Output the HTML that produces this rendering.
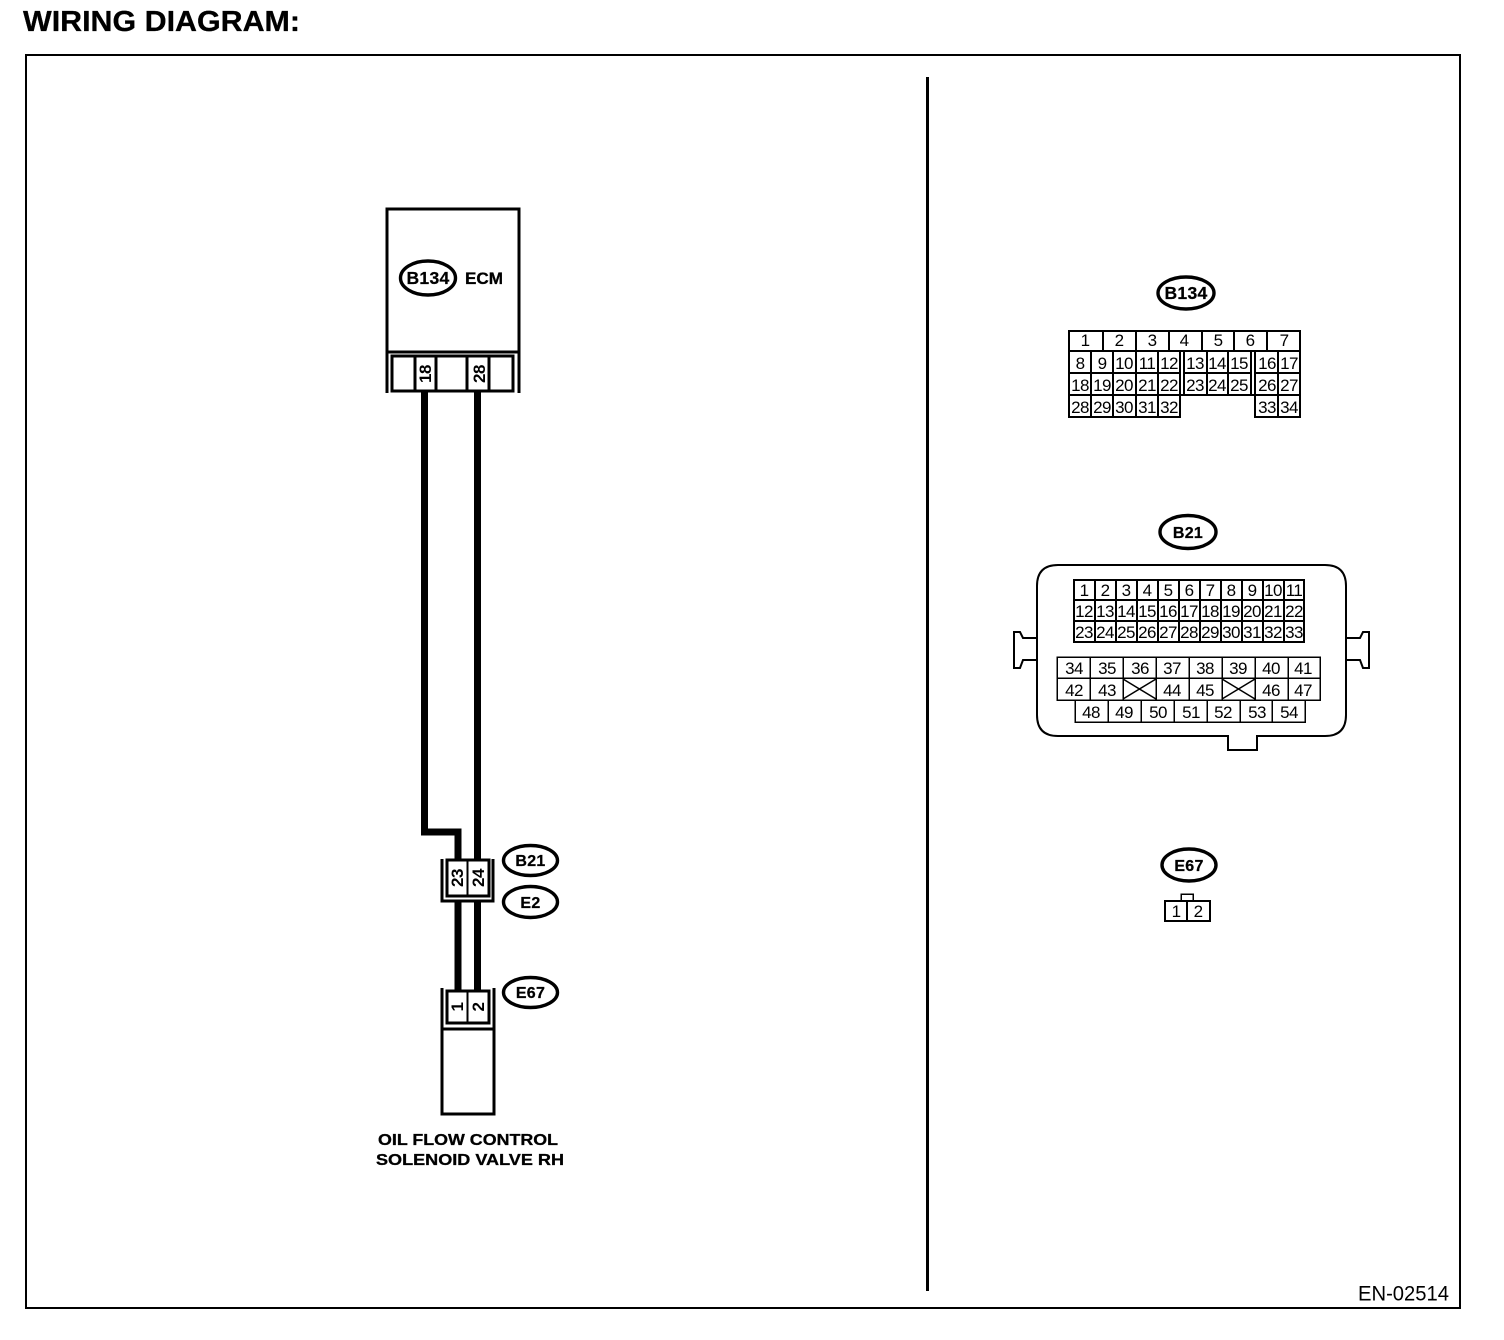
<!DOCTYPE html>
<html><head><meta charset="utf-8"><title>Wiring Diagram</title>
<style>
html,body{margin:0;padding:0;background:#fff}
svg{display:block}
text{font-family:"Liberation Sans",sans-serif;fill:#000}
.b{font-weight:bold;stroke:#000;stroke-width:.3px}
.n{font-size:17px;text-anchor:middle;letter-spacing:-.6px}
.e{font-size:16px;font-weight:bold;text-anchor:middle;stroke:#000;stroke-width:.25px;letter-spacing:.3px}
.g{font-size:17px;font-weight:bold;text-anchor:middle;letter-spacing:-.5px}
.l{fill:none;stroke:#000;shape-rendering:crispEdges}
.o{fill:#fff;stroke:#000;stroke-width:3.4}
</style></head><body>
<svg width="1504" height="1340" viewBox="0 0 1504 1340" xmlns="http://www.w3.org/2000/svg">
<rect width="1504" height="1340" fill="#fff"/>
<text class="b" x="23" y="31" font-size="29" textLength="277" lengthAdjust="spacingAndGlyphs">WIRING DIAGRAM:</text>
<rect class="l" x="26" y="55" width="1434" height="1253" stroke-width="2"/>
<rect x="926" y="77" width="3" height="1214" fill="#000"/>
<text x="1358" y="1300.5" font-size="21" textLength="91" lengthAdjust="spacingAndGlyphs">EN-02514</text>

<!-- wires -->
<path d="M424.5 392V832H458V860M477.5 392V860M458 900V990M477.5 900V990" fill="none" stroke="#000" stroke-width="7" shape-rendering="crispEdges"/>

<!-- ECM -->
<path class="l" stroke-width="3" d="M387 393V209H519V393M387 352H519"/>
<rect class="l" stroke-width="3" x="392" y="356" width="121" height="35" fill="#fff"/>
<path class="l" stroke-width="3" d="M415 356V391M436 356V391M467 356V391M489 356V391"/>
<ellipse class="o" cx="428" cy="278" rx="27.5" ry="17"/>
<text class="e" x="428" y="284" style="font-size:17.5px">B134</text>
<text class="b" x="465" y="284" font-size="16.5" textLength="38" lengthAdjust="spacingAndGlyphs">ECM</text>
<text class="g" transform="rotate(-90 425 374)" x="425" y="380">18</text>
<text class="g" transform="rotate(-90 479 374)" x="479" y="380">28</text>

<!-- B21/E2 connector -->
<path class="l" stroke-width="3" d="M442 859V901H493V859"/>
<rect class="l" stroke-width="3" x="447" y="860" width="42" height="36" fill="#fff"/>
<path class="l" stroke-width="2" d="M467.5 860V896"/>
<text class="g" transform="rotate(-90 457 878)" x="457" y="884">23</text>
<text class="g" transform="rotate(-90 478 878)" x="478" y="884">24</text>
<ellipse class="o" cx="530.5" cy="860.5" rx="27" ry="15"/>
<text class="e" x="530.5" y="866">B21</text>
<ellipse class="o" cx="530.5" cy="902" rx="27" ry="15.5"/>
<text class="e" x="530.5" y="908">E2</text>
<ellipse class="o" cx="530.5" cy="992.5" rx="27" ry="15"/>
<text class="e" x="530.5" y="998">E67</text>

<!-- E67 connector / solenoid -->
<path class="l" stroke-width="3" d="M442 988V1114H494V988M442 1029H494"/>
<rect class="l" stroke-width="3" x="447" y="991" width="42" height="32" fill="#fff"/>
<path class="l" stroke-width="2" d="M467.5 991V1023"/>
<text class="g" transform="rotate(-90 457 1007)" x="457" y="1013">1</text>
<text class="g" transform="rotate(-90 478 1007)" x="478" y="1013">2</text>
<text class="b" x="378" y="1145" font-size="16" textLength="180" lengthAdjust="spacingAndGlyphs">OIL FLOW CONTROL</text>
<text class="b" x="376" y="1165" font-size="16" textLength="188" lengthAdjust="spacingAndGlyphs">SOLENOID VALVE RH</text>

<!-- right B134 -->
<ellipse class="o" cx="1186" cy="293" rx="28" ry="16"/>
<text class="e" x="1186" y="299" style="font-size:17.5px">B134</text>
<path class="l" stroke-width="2" d="M1069 331H1300V417H1255V395H1180V417H1069Z"/>
<path class="l" stroke-width="2" d="M1069 351H1300M1069 373H1180M1184 373H1251M1255 373H1300M1069 395H1180M1255 395H1300"/>
<path class="l" stroke-width="2" d="M1103 331V351M1136 331V351M1169 331V351M1202 331V351M1234 331V351M1267 331V351"/>
<path class="l" stroke-width="2" d="M1091 351V417M1113 351V417M1136 351V417M1158 351V417M1180 351V395M1184 351V395M1207 351V395M1228 351V395M1251 351V395M1255 351V395M1278 351V417"/>
<text class="n" x="1085" y="346">1</text><text class="n" x="1119" y="346">2</text><text class="n" x="1152" y="346">3</text><text class="n" x="1184" y="346">4</text><text class="n" x="1218" y="346">5</text><text class="n" x="1250" y="346">6</text><text class="n" x="1284" y="346">7</text>
<text class="n" x="1080" y="369">8</text><text class="n" x="1102" y="369">9</text><text class="n" x="1124" y="369">10</text><text class="n" x="1147" y="369">11</text><text class="n" x="1169" y="369">12</text><text class="n" x="1195" y="369">13</text><text class="n" x="1217" y="369">14</text><text class="n" x="1239" y="369">15</text><text class="n" x="1267" y="369">16</text><text class="n" x="1289" y="369">17</text>
<text class="n" x="1080" y="391">18</text><text class="n" x="1102" y="391">19</text><text class="n" x="1124" y="391">20</text><text class="n" x="1147" y="391">21</text><text class="n" x="1169" y="391">22</text><text class="n" x="1195" y="391">23</text><text class="n" x="1217" y="391">24</text><text class="n" x="1239" y="391">25</text><text class="n" x="1267" y="391">26</text><text class="n" x="1289" y="391">27</text>
<text class="n" x="1080" y="413">28</text><text class="n" x="1102" y="413">29</text><text class="n" x="1124" y="413">30</text><text class="n" x="1147" y="413">31</text><text class="n" x="1169" y="413">32</text><text class="n" x="1267" y="413">33</text><text class="n" x="1289" y="413">34</text>

<!-- right B21 -->
<ellipse class="o" cx="1188" cy="532" rx="28" ry="16.5"/>
<text class="e" x="1188" y="538">B21</text>
<path d="M1228 736H1058Q1037 736 1037 715V586Q1037 565 1058 565H1325Q1346 565 1346 586V715Q1346 736 1325 736H1257V750H1228ZM1037 660H1023L1020 668H1014V632H1020L1023 638H1037M1346 638H1360L1363 632H1369V668H1363L1360 660H1346" fill="none" stroke="#000" stroke-width="2"/>
<path class="l" stroke-width="2" d="M1074 580H1304V642H1074Z"/>
<path class="l" stroke-width="2" d="M1074 600H1304M1074 621H1304M1095 580V642M1116 580V642M1137 580V642M1158 580V642M1179 580V642M1200 580V642M1221 580V642M1242 580V642M1263 580V642M1284 580V642"/>
<path class="l" stroke-width="1.5" d="M1057 657H1320V700H1057ZM1057 678H1320M1090 657V700M1123 657V700M1156 657V700M1189 657V700M1222 657V700M1255 657V700M1288 657V700"/>
<path class="l" stroke-width="1.5" d="M1075 700H1305V722H1075ZM1108 700V722M1141 700V722M1174 700V722M1207 700V722M1240 700V722M1272 700V722"/>
<path d="M1123 699L1156 679M1123 679L1156 699M1222 699L1255 679M1222 679L1255 699" fill="none" stroke="#000" stroke-width="1.5"/>
<text class="n" x="1084" y="596">1</text><text class="n" x="1105" y="596">2</text><text class="n" x="1126" y="596">3</text><text class="n" x="1147" y="596">4</text><text class="n" x="1168" y="596">5</text><text class="n" x="1189" y="596">6</text><text class="n" x="1210" y="596">7</text><text class="n" x="1231" y="596">8</text><text class="n" x="1252" y="596">9</text><text class="n" x="1273" y="596">10</text><text class="n" x="1294" y="596">11</text>
<text class="n" x="1084" y="617">12</text><text class="n" x="1105" y="617">13</text><text class="n" x="1126" y="617">14</text><text class="n" x="1147" y="617">15</text><text class="n" x="1168" y="617">16</text><text class="n" x="1189" y="617">17</text><text class="n" x="1210" y="617">18</text><text class="n" x="1231" y="617">19</text><text class="n" x="1252" y="617">20</text><text class="n" x="1273" y="617">21</text><text class="n" x="1294" y="617">22</text>
<text class="n" x="1084" y="638">23</text><text class="n" x="1105" y="638">24</text><text class="n" x="1126" y="638">25</text><text class="n" x="1147" y="638">26</text><text class="n" x="1168" y="638">27</text><text class="n" x="1189" y="638">28</text><text class="n" x="1210" y="638">29</text><text class="n" x="1231" y="638">30</text><text class="n" x="1252" y="638">31</text><text class="n" x="1273" y="638">32</text><text class="n" x="1294" y="638">33</text>
<text class="n" x="1074" y="674">34</text><text class="n" x="1107" y="674">35</text><text class="n" x="1140" y="674">36</text><text class="n" x="1172" y="674">37</text><text class="n" x="1205" y="674">38</text><text class="n" x="1238" y="674">39</text><text class="n" x="1271" y="674">40</text><text class="n" x="1303" y="674">41</text>
<text class="n" x="1074" y="696">42</text><text class="n" x="1107" y="696">43</text><text class="n" x="1172" y="696">44</text><text class="n" x="1205" y="696">45</text><text class="n" x="1271" y="696">46</text><text class="n" x="1303" y="696">47</text>
<text class="n" x="1091" y="718">48</text><text class="n" x="1124" y="718">49</text><text class="n" x="1158" y="718">50</text><text class="n" x="1191" y="718">51</text><text class="n" x="1223" y="718">52</text><text class="n" x="1257" y="718">53</text><text class="n" x="1289" y="718">54</text>

<!-- right E67 -->
<ellipse class="o" cx="1189" cy="865" rx="27" ry="16"/>
<text class="e" x="1189" y="871">E67</text>
<rect class="l" stroke-width="1.5" x="1181" y="894" width="12" height="7"/>
<rect class="l" stroke-width="2" x="1165" y="901" width="45" height="20" fill="#fff"/>
<path class="l" stroke-width="2" d="M1187 901V921"/>
<text class="n" x="1176" y="917">1</text><text class="n" x="1198" y="917">2</text>
</svg>
</body></html>
